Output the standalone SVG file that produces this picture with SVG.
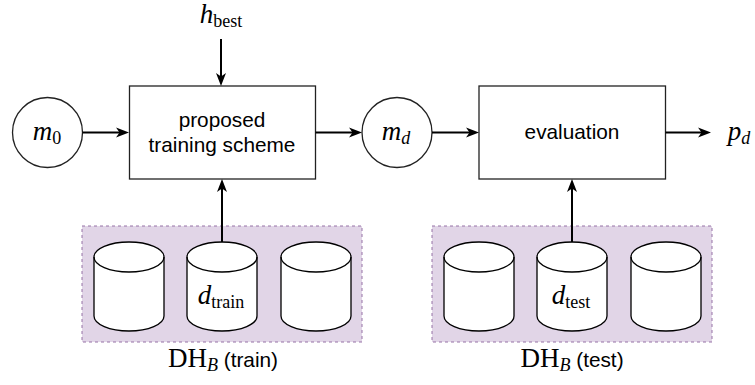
<svg xmlns="http://www.w3.org/2000/svg" width="755" height="385" viewBox="0 0 755 385">
<style>
.box{fill:#fff;stroke:#222;stroke-width:1.3}
.panel{fill:#e1d5e7;stroke:#9673a6;stroke-width:1;stroke-dasharray:3 3}
.cyl{fill:#fff;stroke:#000;stroke-width:1.3}
.rim{fill:none;stroke:#000;stroke-width:1.3}
.conn{stroke:#000;stroke-width:2;fill:none;marker-end:url(#arr)}
.sans{font-family:"Liberation Sans",Arial,sans-serif;font-size:20.8px;fill:#000}
.math{font-family:"Liberation Serif","Times New Roman",serif;font-size:27px;fill:#000}
.it{font-style:italic}
.sub{font-size:18px}
</style>
<defs>
<marker id="arr" markerUnits="userSpaceOnUse" markerWidth="14" markerHeight="12" refX="8" refY="6" orient="auto">
<path d="M0,1 L13,6 L0,11 L3.5,6 Z" fill="#000"/>
</marker>
</defs>
<g id="panel-train"><rect class="panel" x="82" y="226" width="280" height="116"/></g>
<g id="panel-test"><rect class="panel" x="432" y="226" width="280" height="116"/></g>
<g id="m0"><circle class="box" cx="47.5" cy="132.5" r="35"/><text class="math" x="47" y="140" text-anchor="middle"><tspan class="it">m</tspan><tspan class="sub" dy="4">0</tspan></text></g>
<g id="training"><rect class="box" x="129.5" y="86" width="186" height="93"/><text class="sans" x="222" y="126.5" text-anchor="middle">proposed</text><text class="sans" x="222" y="151.5" text-anchor="middle">training scheme</text></g>
<g id="hbest"><text class="math" x="221" y="23" text-anchor="middle"><tspan class="it">h</tspan><tspan class="sub" dy="4">best</tspan></text></g>
<g id="md"><circle class="box" cx="397" cy="132.5" r="35"/><text class="math" x="396" y="140" text-anchor="middle"><tspan class="it">m</tspan><tspan class="sub it" dy="4">d</tspan></text></g>
<g id="evaluation"><rect class="box" x="479" y="86" width="186.5" height="93"/><text class="sans" x="572" y="139" text-anchor="middle">evaluation</text></g>
<g id="pd"><text class="math" x="739" y="140" text-anchor="middle"><tspan class="it">p</tspan><tspan class="sub it" dy="4">d</tspan></text></g>
<g id="cyl-train-1"><path class="cyl" d="M94,257 A35,15 0 0 1 164,257 L164,316 A35,15 0 0 1 94,316 Z"/><path class="rim" d="M94,257 A35,15 0 0 0 164,257"/></g>
<g id="cyl-train-2"><path class="cyl" d="M187,257 A35,15 0 0 1 257,257 L257,316 A35,15 0 0 1 187,316 Z"/><path class="rim" d="M187,257 A35,15 0 0 0 257,257"/><text class="math" x="221" y="304" text-anchor="middle"><tspan class="it">d</tspan><tspan class="sub" dy="4">train</tspan></text></g>
<g id="cyl-train-3"><path class="cyl" d="M281,257 A35,15 0 0 1 351,257 L351,316 A35,15 0 0 1 281,316 Z"/><path class="rim" d="M281,257 A35,15 0 0 0 351,257"/></g>
<g id="cyl-test-1"><path class="cyl" d="M444,257 A35,15 0 0 1 514,257 L514,316 A35,15 0 0 1 444,316 Z"/><path class="rim" d="M444,257 A35,15 0 0 0 514,257"/></g>
<g id="cyl-test-2"><path class="cyl" d="M537,257 A35,15 0 0 1 607,257 L607,316 A35,15 0 0 1 537,316 Z"/><path class="rim" d="M537,257 A35,15 0 0 0 607,257"/><text class="math" x="571" y="304" text-anchor="middle"><tspan class="it">d</tspan><tspan class="sub" dy="4">test</tspan></text></g>
<g id="cyl-test-3"><path class="cyl" d="M631,257 A35,15 0 0 1 701,257 L701,316 A35,15 0 0 1 631,316 Z"/><path class="rim" d="M631,257 A35,15 0 0 0 701,257"/></g>
<g id="label-train"><text x="223" y="367" text-anchor="middle"><tspan class="math">DH</tspan><tspan class="math it sub" dy="4">B</tspan><tspan class="sans" dy="-4"> (train)</tspan></text></g>
<g id="label-test"><text x="572" y="367" text-anchor="middle"><tspan class="math">DH</tspan><tspan class="math it sub" dy="4">B</tspan><tspan class="sans" dy="-4"> (test)</tspan></text></g>
<g id="connectors">
<line class="conn" x1="82.5" y1="132.5" x2="124" y2="132.5"/>
<line class="conn" x1="221" y1="39" x2="221" y2="81"/>
<line class="conn" x1="315.5" y1="132.5" x2="357" y2="132.5"/>
<line class="conn" x1="432" y1="132.5" x2="474" y2="132.5"/>
<line class="conn" x1="665.5" y1="132.5" x2="706" y2="132.5"/>
<line class="conn" x1="222" y1="242" x2="222" y2="184"/>
<line class="conn" x1="572" y1="242" x2="572" y2="184"/>
</g>
</svg>
